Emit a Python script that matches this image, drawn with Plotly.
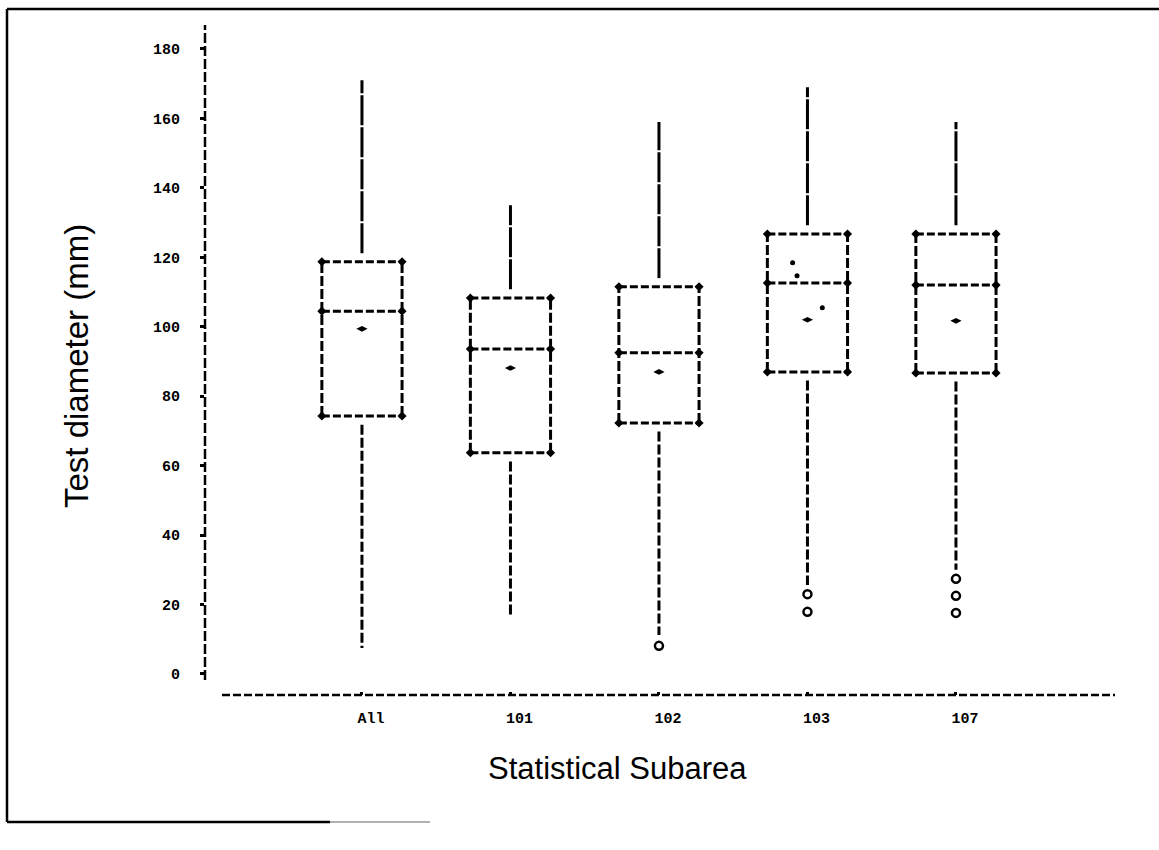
import plotly.graph_objects as go

# Five-number summaries of test diameter (mm) by statistical subarea
subareas = ["All", "101", "102", "103", "107"]
whisker_hi = [171.0, 135.0, 159.0, 169.0, 159.0]
q3 = [118.7, 108.3, 111.5, 126.7, 126.7]
median = [104.5, 93.6, 92.5, 112.6, 112.0]
mean = [99.4, 88.1, 87.0, 102.0, 101.7]
q1 = [74.3, 63.7, 72.3, 87.0, 86.7]
whisker_lo = [7.5, 17.0, 11.2, 25.6, 30.0]

# Outlying observations (subarea index, value)
outlier_idx = [2, 3, 3, 4, 4, 4]
outlier_val = [8.1, 23.0, 17.9, 27.4, 22.5, 17.6]

# Stray single observations plotted inside the 103 box
spot_idx = [3, 3, 3]
spot_val = [118.4, 114.7, 105.5]
spot_off = [-0.10, -0.07, 0.10]

y_ticks = list(range(0, 181, 20))

HALF = 0.27          # half box width in category units
INK = "black"

fig = go.Figure()

# horizontal box edges (Q1, median, Q3) with end marks
hx, hy = [], []
for i in range(len(subareas)):
    for v in (q1[i], median[i], q3[i]):
        hx += [i - HALF, i + HALF, None]
        hy += [v, v, None]
fig.add_trace(go.Scatter(
    x=hx, y=hy, mode="lines+markers",
    line=dict(color=INK, width=3, dash="8px,3px"),
    marker=dict(symbol="diamond", size=7, color=INK),
    hoverinfo="skip"))

# vertical box sides
vx, vy = [], []
for i in range(len(subareas)):
    for s in (-HALF, HALF):
        vx += [i + s, i + s, None]
        vy += [q1[i], q3[i], None]
fig.add_trace(go.Scatter(
    x=vx, y=vy, mode="lines",
    line=dict(color=INK, width=3, dash="10px,3px"),
    hoverinfo="skip"))

# upper whiskers
ux, uy = [], []
for i in range(len(subareas)):
    ux += [i, i, None]
    uy += [q3[i] + 2.5, whisker_hi[i], None]
fig.add_trace(go.Scatter(
    x=ux, y=uy, mode="lines",
    line=dict(color=INK, width=3, dash="30px,2px"),
    hoverinfo="skip"))

# lower whiskers
lx, ly = [], []
for i in range(len(subareas)):
    lx += [i, i, None]
    ly += [q1[i] - 2.5, whisker_lo[i], None]
fig.add_trace(go.Scatter(
    x=lx, y=ly, mode="lines",
    line=dict(color=INK, width=3, dash="10px,3px"),
    hoverinfo="skip"))

# means
fig.add_trace(go.Scatter(
    x=list(range(len(subareas))), y=mean, mode="markers",
    marker=dict(symbol="diamond-wide", size=8, color=INK),
    hoverinfo="skip"))

# outliers
fig.add_trace(go.Scatter(
    x=outlier_idx, y=outlier_val, mode="markers",
    marker=dict(symbol="circle-open", size=8, color=INK,
                line=dict(color=INK, width=2.5)),
    hoverinfo="skip"))

# single observations
fig.add_trace(go.Scatter(
    x=[i + o for i, o in zip(spot_idx, spot_off)], y=spot_val, mode="markers",
    marker=dict(symbol="circle", size=5, color=INK),
    hoverinfo="skip"))

W, H = 1159, 850
L, R, T, B = 205, 44, 25, 155
pw, ph = W - L - R, H - T - B


def px_x(p):
    return (p - L) / pw


def px_y(p):
    return (H - B - p) / ph


tick_font = dict(family="Liberation Mono", size=15, color=INK, weight="bold")

shapes = [
    # dashed y axis
    dict(type="line", xref="paper", yref="paper",
         x0=0, x1=0, y0=px_y(680), y1=1.0,
         line=dict(color=INK, width=2.5, dash="10px,3px")),
    # dashed x axis
    dict(type="line", xref="paper", yref="paper",
         x0=px_x(222), x1=1.0, y0=0, y1=0,
         line=dict(color=INK, width=2.5, dash="8px,3px")),
    # page frame
    dict(type="line", xref="paper", yref="paper",
         x0=px_x(7), x1=px_x(1159), y0=px_y(9), y1=px_y(9),
         line=dict(color=INK, width=2.5)),
    dict(type="line", xref="paper", yref="paper",
         x0=px_x(7), x1=px_x(7), y0=px_y(9), y1=px_y(822),
         line=dict(color=INK, width=2.5)),
    dict(type="line", xref="paper", yref="paper",
         x0=px_x(7), x1=px_x(330), y0=px_y(822), y1=px_y(822),
         line=dict(color=INK, width=2.5)),
    dict(type="line", xref="paper", yref="paper",
         x0=px_x(330), x1=px_x(430), y0=px_y(822), y1=px_y(822),
         line=dict(color="#b0b0b0", width=2)),
]

annotations = [
    dict(text="Test diameter (mm)", xref="paper", yref="paper",
         x=px_x(76), y=px_y(366), textangle=-90, showarrow=False,
         font=dict(family="Liberation Sans", size=33, color=INK),
         xanchor="center", yanchor="middle"),
    dict(text="Statistical Subarea", xref="paper", yref="paper",
         x=px_x(617), y=px_y(768), showarrow=False,
         font=dict(family="Liberation Sans", size=31, color=INK),
         xanchor="center", yanchor="middle"),
]

fig.update_layout(
    width=W, height=H, autosize=False,
    margin=dict(l=L, r=R, t=T, b=B, pad=0),
    paper_bgcolor="white", plot_bgcolor="white",
    showlegend=False,
    shapes=shapes, annotations=annotations,
    xaxis=dict(range=[-1.057, 5.071], tickmode="array",
               tickvals=list(range(len(subareas))), ticktext=subareas,
               showgrid=False, zeroline=False, showline=False,
               ticks="inside", ticklen=3, tickwidth=3, tickcolor=INK,
               tickfont=tick_font, ticklabelstandoff=12, ticklabelshift=9),
    yaxis=dict(range=[-6.05, 186.9], tickmode="array", tickvals=y_ticks,
               showgrid=False, zeroline=False, showline=False,
               ticks="outside", ticklen=4, tickwidth=3, tickcolor=INK,
               tickfont=tick_font, ticklabelstandoff=17),
)

fig.write_html("out.html")
